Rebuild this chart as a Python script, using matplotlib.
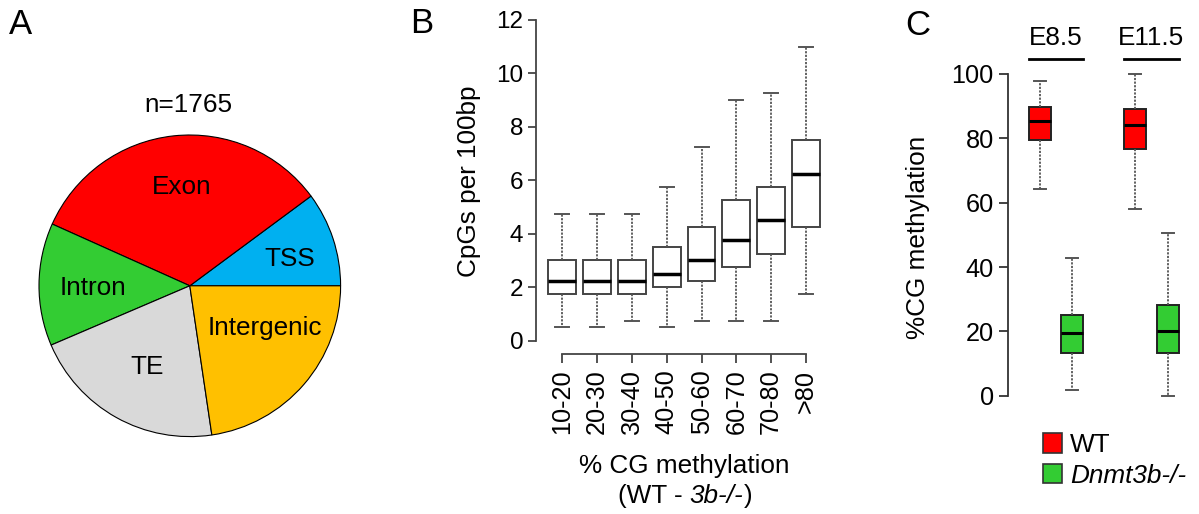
import matplotlib
matplotlib.use("Agg")
import matplotlib.pyplot as plt
from matplotlib.patches import Patch
from matplotlib.offsetbox import TextArea, HPacker, AnnotationBbox

plt.rcParams["font.family"] = "Liberation Sans"

# -----------------------------
# Data
# -----------------------------
# A: genomic features of the regions (n=1765), counter-clockwise from 3 o'clock
pie_labels = ["TSS", "Exon", "Intron", "TE", "Intergenic"]
pie_counts = [179, 585, 232, 369, 400]
pie_colors = ["#00B0F0", "#FF0000", "#33CC33", "#D9D9D9", "#FFC000"]

# B: CpG density per methylation-loss bin
bins = ["10-20", "20-30", "30-40", "40-50", "50-60", "60-70", "70-80", ">80"]
b_whislo = [0.5, 0.5, 0.75, 0.5, 0.75, 0.75, 0.75, 1.75]
b_q1 = [1.75, 1.75, 1.75, 2.0, 2.25, 2.75, 3.25, 4.25]
b_med = [2.25, 2.25, 2.25, 2.5, 3.0, 3.75, 4.5, 6.25]
b_q3 = [3.0, 3.0, 3.0, 3.5, 4.25, 5.25, 5.75, 7.5]
b_whishi = [4.75, 4.75, 4.75, 5.75, 7.25, 9.0, 9.25, 11.0]

# C: %CG methylation, WT / Dnmt3b-/- at E8.5 and E11.5
stages = ["E8.5", "E11.5"]
genotypes = ["WT", "Dnmt3b-/-"]
c_whislo = [64.2, 1.7, 58.1, 0.0]
c_q1 = [79.4, 13.3, 76.7, 13.3]
c_med = [85.4, 19.5, 84.0, 20.2]
c_q3 = [89.7, 25.2, 89.1, 28.3]
c_whishi = [97.7, 42.9, 100.0, 50.6]
geno_colors = ["#FF0000", "#33CC33"]

W, H = 1199, 514
fig = plt.figure(figsize=(W / 100, H / 100), dpi=100)


def px_axes(left, top, right, bottom):
    return fig.add_axes([left / W, 1 - bottom / H, (right - left) / W, (bottom - top) / H])


def fig_xy(x, y):
    return x / W, 1 - y / H


# -----------------------------
# Panel A - pie
# -----------------------------
axA = px_axes(39.0, 135.0, 340.6, 436.6)
wedges, _ = axA.pie(pie_counts, colors=pie_colors, startangle=0, counterclock=True,
                    radius=1, wedgeprops=dict(edgecolor="black", linewidth=0.8))
axA.set_xlim(-1, 1)
axA.set_ylim(-1, 1)
axA.set_aspect("equal")

label_pos = {"TSS": (0.662, 0.128), "Exon": (-0.055, 0.609), "Intron": (-0.642, -0.060),
             "TE": (-0.283, -0.583), "Intergenic": (0.497, -0.329)}
for lab in pie_labels:
    x, y = label_pos[lab]
    axA.text(x, y, lab, ha="center", va="baseline", fontsize=18.8)

fig.text(*fig_xy(188.7, 112.3), "n=" + str(sum(pie_counts)), ha="center", va="baseline", fontsize=18.8)

# -----------------------------
# Panel B - CpG density boxplots
# -----------------------------
axB = px_axes(536.0, 6.6, 832.3, 354.0)
statsB = [dict(med=m, q1=a, q3=b, whislo=lo, whishi=hi, fliers=[])
          for m, a, b, lo, hi in zip(b_med, b_q1, b_q3, b_whislo, b_whishi)]
posB = list(range(1, len(bins) + 1))
axB.bxp(statsB, positions=posB, widths=0.8, capwidths=0.4, patch_artist=True,
        boxprops=dict(facecolor="white", edgecolor="#444444", linewidth=1.4),
        whiskerprops=dict(color="#555555", linewidth=1.3, linestyle=(0, (1.2, 0.8))),
        capprops=dict(color="#555555", linewidth=1.4),
        medianprops=dict(color="black", linewidth=2.5),
        manage_ticks=False)
axB.set_xlim(0.244, 8.756)
axB.set_ylim(-0.5, 12.5)
for s in ["top", "right"]:
    axB.spines[s].set_visible(False)
axB.spines["left"].set_bounds(0, 12)
axB.spines["bottom"].set_bounds(1, 8)
for s in ["left", "bottom"]:
    axB.spines[s].set_color("#444444")
    axB.spines[s].set_linewidth(1.3)
axB.set_yticks(range(0, 13, 2))
axB.set_xticks(posB)
axB.set_xticklabels(bins, rotation=90)
axB.tick_params(axis="y", length=5.8, width=1.3, color="#444444", pad=3.2, labelsize=17.5)
axB.tick_params(axis="x", length=6.2, width=1.3, color="#444444", pad=5, labelsize=18.2)

fig.text(*fig_xy(469, 180.8), "CpGs per 100bp", rotation=90, ha="center", va="center", fontsize=18.8)
fig.text(*fig_xy(684.2, 473), "% CG methylation", ha="center", va="baseline", fontsize=18.8)
line2 = HPacker(children=[
    HPacker(children=[TextArea("(WT -", textprops=dict(fontsize=18.8)),
                      TextArea("3b-/-", textprops=dict(fontsize=18.8, style="italic"))],
            pad=0, sep=5.2, align="baseline"),
    TextArea(")", textprops=dict(fontsize=18.8))], pad=0, sep=0, align="baseline")
fig.add_artist(AnnotationBbox(line2, fig_xy(685, 496), xycoords="figure fraction",
                              box_alignment=(0.5, 0.5), frameon=False, pad=0))

# -----------------------------
# Panel C - methylation boxplots
# -----------------------------
axC = px_axes(1008.3, 61.1, 1189.2, 408.6)
posC = [1, 2, 3.94, 4.94]
statsC = [dict(med=m, q1=a, q3=b, whislo=lo, whishi=hi, fliers=[])
          for m, a, b, lo, hi in zip(c_med, c_q1, c_q3, c_whislo, c_whishi)]
boxC = axC.bxp(statsC, positions=posC, widths=0.67, capwidths=0.36, patch_artist=True,
               boxprops=dict(edgecolor="#222222", linewidth=1.4),
               whiskerprops=dict(color="#555555", linewidth=1.3, linestyle=(0, (1.2, 0.8))),
               capprops=dict(color="#555555", linewidth=1.4),
               medianprops=dict(color="black", linewidth=2.2),
               manage_ticks=False)
for i, patch in enumerate(boxC["boxes"]):
    patch.set_facecolor(geno_colors[i % 2])
axC.set_xlim(0.034, 5.6)
axC.set_ylim(-4, 104)
for s in ["top", "right", "bottom"]:
    axC.spines[s].set_visible(False)
axC.spines["left"].set_bounds(0, 100)
axC.spines["left"].set_color("#333333")
axC.spines["left"].set_linewidth(1.3)
axC.set_xticks([])
axC.set_yticks(range(0, 101, 20))
axC.tick_params(axis="y", length=6.8, width=1.3, color="#333333", pad=3.6, labelsize=18.2)

for k, st in enumerate(stages):
    x0 = posC[2 * k] - 0.67 / 2
    x1 = posC[2 * k + 1] + 0.67 / 2
    axC.plot([x0, x1], [104.7, 104.7], color="black", lw=2, clip_on=False)
    axC.text((x0 + x1) / 2, 109, st, ha="center", va="baseline", fontsize=18.8, clip_on=False)

fig.text(*fig_xy(918, 237.5), "%CG methylation", rotation=90, ha="center", va="center", fontsize=18.8)

handles = [Patch(facecolor=c, edgecolor="#333333", linewidth=1.2, label=g)
           for c, g in zip(geno_colors, genotypes)]
leg = fig.legend(handles=handles, loc="upper left", bbox_to_anchor=fig_xy(1042.7, 433),
                 frameon=False, borderpad=0, borderaxespad=0, fontsize=18.8,
                 handlelength=0.72, handleheight=0.77, handletextpad=0.34, labelspacing=0.26)
leg.get_texts()[1].set_style("italic")

# panel letters
fig.text(*fig_xy(9, 34.3), "A", ha="left", va="baseline", fontsize=25)
fig.text(*fig_xy(410, 33.3), "B", ha="left", va="baseline", fontsize=25)
fig.text(*fig_xy(905, 35), "C", ha="left", va="baseline", fontsize=25)

fig.savefig("out.png", dpi=100)
